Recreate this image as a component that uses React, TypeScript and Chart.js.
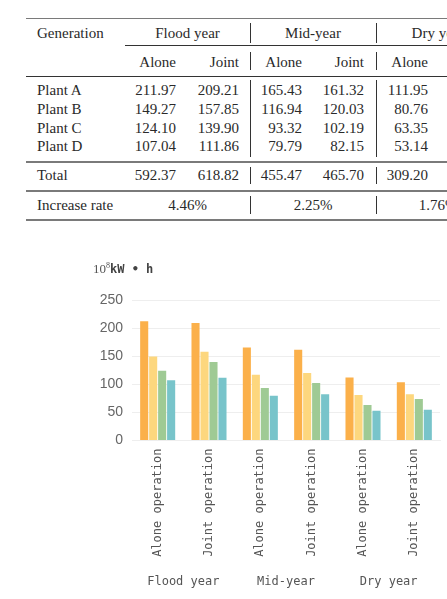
import React, { useEffect, useRef } from 'react';
import { Chart, registerables } from 'chart.js';

Chart.register(...registerables);

// ---- data ----
const categories = [
  'Alone operation', 'Joint operation',
  'Alone operation', 'Joint operation',
  'Alone operation', 'Joint operation',
];
const years = ['Flood year', 'Mid-year', 'Dry year'];
const modes = ['Alone', 'Joint'];
const plants = ['Plant A', 'Plant B', 'Plant C', 'Plant D'];
const plantA = [211.97, 209.21, 165.43, 161.32, 111.95, 103.71];
const plantB = [149.27, 157.85, 116.94, 120.03, 80.76, 82.14];
const plantC = [124.10, 139.90, 93.32, 102.19, 63.35, 73.96];
const plantD = [107.04, 111.86, 79.79, 82.15, 53.14, 54.83];
const totals = [592.37, 618.82, 455.47, 465.70, 309.20, 314.64];
const increaseRates = ['4.46%', '2.25%', '1.76%'];
const yMax = 250;
const yStep = 50;

const plantSeries = [plantA, plantB, plantC, plantD];

// ---- styling ----
const plantColors = ['#FBB04A', '#FDD77E', '#9FCA94', '#78C4CA'];
const serif = '"Liberation Serif", "Times New Roman", serif';
const mono = '"DejaVu Sans Mono", monospace';
const textColor = '#2a2a2a';

const colRight = [176, 239, 302, 364, 428, 491];
const groupCenter = [187.5, 313, 438];
const separatorsX = [250, 376];

type TextProps = { x: number; y: number; align: 'left' | 'right' | 'center'; children: React.ReactNode };

function Cell({ x, y, align, children }: TextProps) {
  const tx = align === 'left' ? '0' : align === 'right' ? '-100%' : '-50%';
  return (
    <div
      style={{
        position: 'absolute',
        left: x,
        top: y,
        transform: `translate(${tx}, -50%)`,
        lineHeight: '1',
        whiteSpace: 'nowrap',
        font: `15px ${serif}`,
        color: textColor,
      }}
    >
      {children}
    </div>
  );
}

function Rule({ x, y, w, h, color }: { x: number; y: number; w: number; h: number; color: string }) {
  return <div style={{ position: 'absolute', left: x, top: y, width: w, height: h, background: color }} />;
}

function VLine({ x, y1, y2 }: { x: number; y1: number; y2: number }) {
  return <div style={{ position: 'absolute', left: x - 0.5, top: y1, width: 1.2, height: y2 - y1, background: '#333' }} />;
}

function GenerationTable() {
  const plantRows = [90, 108.7, 127.5, 146.3];
  const segments: [number, number][] = [[23, 43], [52, 70], [80, 157], [167, 184], [196, 214]];
  return (
    <div style={{ position: 'absolute', left: 0, top: 0, width: 447, height: 230 }}>
      <Rule x={26} y={17.5} w={430} h={1.8} color="#7a7a7a" />
      <Rule x={125} y={45} w={330} h={1.1} color="#333" />
      <Rule x={26} y={76} w={430} h={1.1} color="#333" />
      <Rule x={26} y={161} w={430} h={2.2} color="#7a7a7a" />
      <Rule x={26} y={190} w={430} h={1.6} color="#7a7a7a" />
      <Rule x={26} y={219} w={430} h={1.6} color="#7a7a7a" />
      {separatorsX.map((sx) =>
        segments.map(([a, b], i) => <VLine key={`${sx}-${i}`} x={sx} y1={a} y2={b} />)
      )}
      <Cell x={37} y={33} align="left">Generation</Cell>
      {years.map((yr, i) => (
        <Cell key={yr} x={groupCenter[i]} y={33} align="center">{yr}</Cell>
      ))}
      {colRight.map((cx, i) => (
        <Cell key={`m${i}`} x={cx} y={61.5} align="right">{modes[i % 2]}</Cell>
      ))}
      {plants.map((p, r) => (
        <React.Fragment key={p}>
          <Cell x={37} y={plantRows[r]} align="left">{p}</Cell>
          {plantSeries[r].map((v, c) => (
            <Cell key={c} x={colRight[c]} y={plantRows[r]} align="right">{v.toFixed(2)}</Cell>
          ))}
        </React.Fragment>
      ))}
      <Cell x={37} y={175} align="left">Total</Cell>
      {totals.map((v, c) => (
        <Cell key={`t${c}`} x={colRight[c]} y={175} align="right">{v.toFixed(2)}</Cell>
      ))}
      <Cell x={37} y={204.5} align="left">Increase rate</Cell>
      {increaseRates.map((r, i) => (
        <Cell key={`r${i}`} x={groupCenter[i]} y={204.5} align="center">{r}</Cell>
      ))}
    </div>
  );
}

function GenerationChart() {
  const canvasRef = useRef<HTMLCanvasElement | null>(null);

  useEffect(() => {
    const canvas = canvasRef.current;
    if (!canvas) return;
    const chart = new Chart(canvas, {
      type: 'bar',
      data: {
        labels: categories,
        datasets: plants.map((p, i) => ({
          label: p,
          data: plantSeries[i],
          backgroundColor: plantColors[i],
          borderWidth: 0,
          categoryPercentage: 0.7,
          barPercentage: 0.9,
        })),
      },
      options: {
        responsive: false,
        animation: false,
        layout: { padding: { top: 60, right: 7, left: 0, bottom: 0 } },
        plugins: {
          legend: { display: false },
          tooltip: { enabled: false },
          title: { display: false },
        },
        scales: {
          y: {
            min: 0,
            max: yMax,
            ticks: {
              stepSize: yStep,
              padding: 9,
              color: '#666',
              font: { family: '"Liberation Sans", Arial, sans-serif', size: 14 },
            },
            grid: { color: '#eeeeee', drawTicks: false, lineWidth: 1 },
            border: { display: false },
            afterFit: (scale: any) => { scale.width = 132; },
          },
          x: {
            position: 'bottom',
            ticks: {
              minRotation: 90,
              maxRotation: 90,
              autoSkip: false,
              padding: 8,
              color: '#555',
              font: { family: mono, size: 12 },
            },
            grid: { display: false, drawTicks: false },
            border: { display: true, color: '#eeeeee' },
            afterFit: (scale: any) => { scale.height = 120; },
          },
          year: {
            type: 'category',
            position: 'bottom',
            labels: years,
            ticks: {
              padding: 14,
              color: '#555',
              font: { family: mono, size: 12 },
              autoSkip: false,
              maxRotation: 0,
            },
            grid: { display: false, drawTicks: false },
            border: { display: false },
            afterFit: (scale: any) => { scale.height = 38.5; },
          },
        },
      },
    });
    return () => chart.destroy();
  }, []);

  return (
    <div style={{ position: 'absolute', left: 0, top: 240, width: 447, height: 359 }}>
      <canvas ref={canvasRef} width={447} height={359} style={{ width: 447, height: 359, display: 'block' }} />
      <div
        style={{
          position: 'absolute',
          left: 93,
          top: 28,
          transform: 'translateY(-50%)',
          whiteSpace: 'nowrap',
          lineHeight: '1',
          color: '#555',
        }}
      >
        <span style={{ font: `13px ${serif}` }}>10</span>
        <sup style={{ font: `8px ${serif}`, verticalAlign: '5px' }}>8</sup>
        <span style={{ font: `bold 12px ${mono}`, color: '#444' }}>kW • h</span>
      </div>
    </div>
  );
}

export default function App() {
  return (
    <div
      style={{
        position: 'fixed',
        left: 0,
        top: 0,
        width: 447,
        height: 599,
        overflow: 'hidden',
        background: '#fff',
      }}
    >
      <GenerationTable />
      <GenerationChart />
    </div>
  );
}
